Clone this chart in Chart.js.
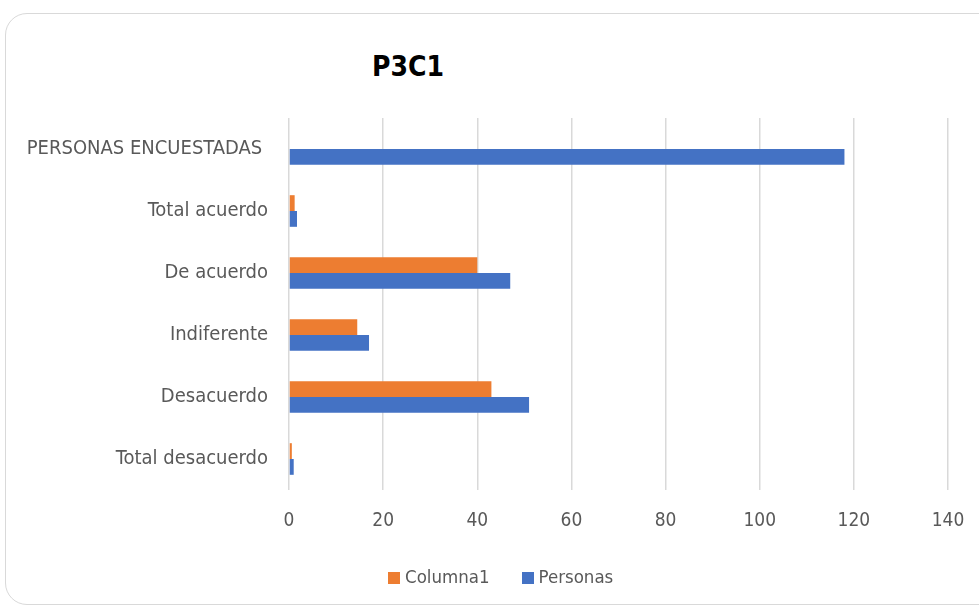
<!DOCTYPE html>
<html>
<head>
<meta charset="utf-8">
<script src="https://cdn.jsdelivr.net/npm/chart.js@4"></script>
<style>
  html, body { margin: 0; padding: 0; background: #fff; overflow: hidden; }
  #card {
    position: absolute; left: 5px; top: 13px; width: 1000px; height: 592px;
    border: 1.5px solid #d9d9d9; border-radius: 22px; box-sizing: border-box;
  }
  #titulo {
    position: absolute; left: 308px; width: 200px; top: 50px; text-align: center;
    font-family: "Liberation Sans Narrow", "DejaVu Sans Condensed", "Roboto", sans-serif;
    font-weight: bold; font-size: 28px; color: #000;
  }
  #myChart { position: absolute; left: 0; top: 0; }
  #leyenda {
    position: absolute; left: 388px; top: 566px; white-space: nowrap;
    font-family: "Liberation Sans Narrow", "DejaVu Sans Condensed", "Roboto", sans-serif;
    font-size: 18.5px; color: #595959;
  }
  #leyenda span.item { display: inline-block; margin-right: 32px; }
  #leyenda span.caja { display: inline-block; width: 12px; height: 12px; margin-right: 5px; vertical-align: -1px; }
</style>
</head>
<body>
<div id="card"></div>
<div id="titulo">P3C1</div>
<canvas id="myChart" width="979" height="611"></canvas>
<div id="leyenda"></div>
<script>
// categorias y valores
var categorias = ['PERSONAS ENCUESTADAS ', 'Total acuerdo', 'De acuerdo', 'Indiferente', 'Desacuerdo', 'Total desacuerdo'];
var columna1 = [null, 1.2, 40, 14.5, 43, 0.6];
var personas = [118, 1.7, 47, 17, 51, 1];
var ticksX = [0, 20, 40, 60, 80, 100, 120, 140];

var fuente = '"Liberation Sans Narrow", "DejaVu Sans Condensed", "Roboto", sans-serif';
var gris = '#595959';

var chart = new Chart(document.getElementById('myChart'), {
  type: 'bar',
  data: {
    labels: categorias,
    datasets: [
      {
        label: 'Columna1',
        backgroundColor: '#ED7D31',
        data: columna1,
        categoryPercentage: 0.51,
        barPercentage: 1
      },
      {
        label: 'Personas',
        backgroundColor: '#4472C4',
        data: personas,
        categoryPercentage: 0.51,
        barPercentage: 1
      }
    ]
  },
  options: {
    indexAxis: 'y',
    responsive: false,
    animation: false,
    layout: { padding: { top: 118, right: 31, bottom: 0, left: 0 } },
    scales: {
      x: {
        min: 0,
        max: 140,
        afterBuildTicks: function(scale){
          scale.ticks = ticksX.map(function(v){ return { value: v }; });
        },
        afterFit: function(scale){
          scale.height = 121;
          scale.paddingLeft = 0;
          scale.paddingRight = 0;
        },
        grid: { color: '#d9d9d9', lineWidth: 1.5, drawTicks: false },
        border: { display: false },
        ticks: { color: gris, padding: 20, font: { family: fuente, size: 19 } }
      },
      y: {
        afterFit: function(scale){ scale.width = 289; },
        grid: { display: false },
        border: { display: false },
        ticks: { color: gris, padding: 13, font: { family: fuente, size: 20 } }
      }
    },
    plugins: {
      title: { display: false },
      tooltip: { enabled: false },
      legend: { display: false }
    }
  }
});

// leyenda html con los colores de las series
var ley = document.getElementById('leyenda');
chart.data.datasets.forEach(function(ds){
  var it = document.createElement('span');
  it.className = 'item';
  var c = document.createElement('span');
  c.className = 'caja';
  c.style.background = ds.backgroundColor;
  it.appendChild(c);
  it.appendChild(document.createTextNode(ds.label));
  ley.appendChild(it);
});
</script>
</body>
</html>
